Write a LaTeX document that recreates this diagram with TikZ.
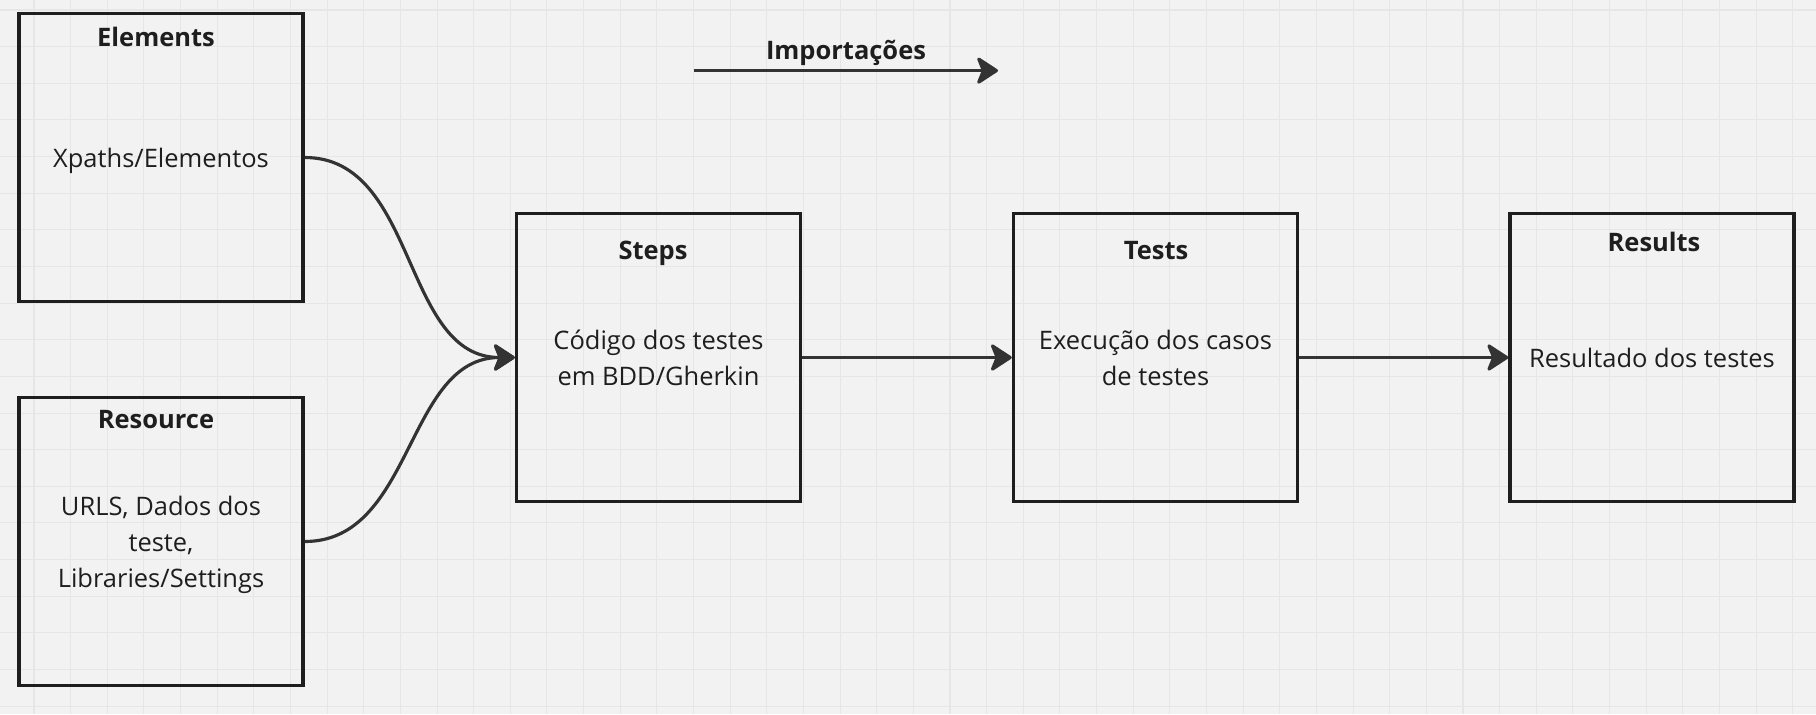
\documentclass[tikz,border=0pt]{standalone}
\usepackage{fontspec}
\setmainfont{Open Sans}
\usetikzlibrary{arrows.meta}

\definecolor{hintergrund}{HTML}{F2F2F2}
\definecolor{rasterfarbe}{HTML}{E6E6E6}
\definecolor{linie}{HTML}{1E1E1E}
\definecolor{pfeilfarbe}{HTML}{333333}

\begin{document}
\begin{tikzpicture}
    [
    x=0.02cm, y=-0.02cm, font=\fontsize{14.5}{20.5}\selectfont, text=linie,
    >={Stealth[length=13.5pt, width=17.5pt, inset=3.5pt, round]},
    %Voreinstellung für Kästen, Titel und Pfeile
    kasten/.style={draw=linie, line width=2pt, minimum width=5.68cm,
        minimum height=5.76cm, align=center, inner sep=0pt, text depth=0pt},
    titel/.style={anchor=base, inner sep=0pt, font=\fontsize{14.5}{20.5}\selectfont\bfseries},
    verbindung/.style={->, draw=pfeilfarbe, line width=1.8pt}
    ]
    
    %Hintergrund
    \useasboundingbox (0,0) rectangle (1816,714);
    \fill[hintergrund] (0,0) rectangle (1816,714);
    
    %Raster im Hintergrund
    \foreach \i in {0,...,48}
    \draw[rasterfarbe, line width=0.6pt] ({34+36.64*\i},0) -- ({34+36.64*\i},714);
    \foreach \j in {0,...,19}
    \draw[rasterfarbe, line width=0.6pt] (0,{10+36.64*\j}) -- (1816,{10+36.64*\j});
    
    %Kästen
    \node[kasten] (elements) at (161,157.5) {Xpaths/Elementos};
    \node[kasten] (resource) at (161,541.5) {URLS, Dados dos\\teste,\\Libraries/Settings};
    \node[kasten] (steps) at (658.5,357.5) {Código dos testes\\em BDD/Gherkin};
    \node[kasten] (tests) at (1155.5,357.5) {Execução dos casos\\de testes};
    \node[kasten] (results) at (1652,357.5) {Resultado dos testes};
    
    %Titel
    \node[titel] (elementsT) at (156,46.7) {Elements};
    \node[titel] (resourceT) at (156,428.5) {Resource};
    \node[titel] (stepsT) at (653,259) {Steps};
    \node[titel] (testsT) at (1156,259) {Tests};
    \node[titel] (resultsT) at (1654,251.7) {Results};
    
    %Importationen
    \coordinate (impA) at (694,70.6);
    \coordinate (impB) at (998,70.6);
    \draw[verbindung] (impA) -- (impB);
    \node[titel] (impT) at (846,59.3) {Importações};
    
    %Pfeile
    \draw[verbindung] (elements.east) to[out=0, in=180] (steps.west);
    \draw[verbindung] (resource.east) to[out=0, in=180] (steps.west);
    \draw[verbindung] (steps) -- (tests);
    \draw[verbindung] (tests) -- (results);
\end{tikzpicture}
\end{document}
